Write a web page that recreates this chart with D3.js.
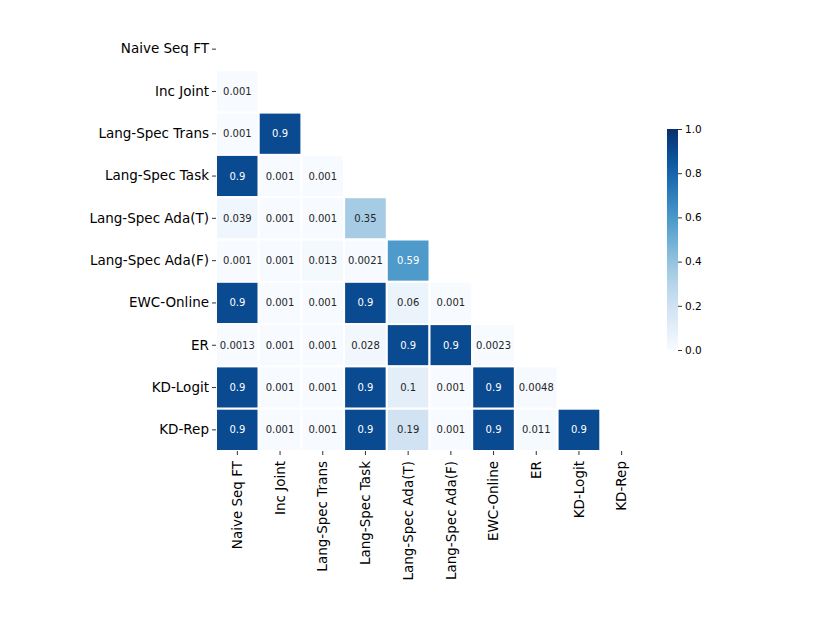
<!DOCTYPE html>
<html>
<head>
<meta charset="utf-8">
<script src="https://cdn.jsdelivr.net/npm/d3@7"></script>
<style>
  body { margin: 0; background: #fff; }
  svg text { font-family: "DejaVu Sans", sans-serif; }
</style>
</head>
<body>
<div id="chart"></div>
<script>
// method names, same order on both axes
const methods = ['Naive Seq FT', 'Inc Joint', 'Lang-Spec Trans', 'Lang-Spec Task',
  'Lang-Spec Ada(T)', 'Lang-Spec Ada(F)', 'EWC-Online', 'ER', 'KD-Logit', 'KD-Rep'];

// lower triangle, row i holds columns 0..i-1 (diagonal and above are masked)
const pvalues = [
  [],
  [0.001],
  [0.001, 0.9],
  [0.9, 0.001, 0.001],
  [0.039, 0.001, 0.001, 0.35],
  [0.001, 0.001, 0.013, 0.0021, 0.59],
  [0.9, 0.001, 0.001, 0.9, 0.06, 0.001],
  [0.0013, 0.001, 0.001, 0.028, 0.9, 0.9, 0.0023],
  [0.9, 0.001, 0.001, 0.9, 0.1, 0.001, 0.9, 0.0048],
  [0.9, 0.001, 0.001, 0.9, 0.19, 0.001, 0.9, 0.011, 0.9]
];

const cbarTicks = [0, 0.2, 0.4, 0.6, 0.8, 1.0];

const W = 830, H = 642;
const grid = {left: 216, top: 28, w: 427, h: 423};

const svg = d3.select('#chart').append('svg')
  .attr('width', W)
  .attr('height', H);

const x = d3.scaleBand().domain(methods).range([grid.left, grid.left + grid.w]);
const y = d3.scaleBand().domain(methods).range([grid.top, grid.top + grid.h]);
const color = d3.scaleSequential(d3.interpolateBlues).domain([0, 1]);

// flatten into cells
let cells = [];
pvalues.forEach((row, i) => {
  row.forEach((v, j) => cells.push({r: methods[i], c: methods[j], v: v}));
});

const g = svg.append('g');
g.selectAll('rect.cell')
  .data(cells)
  .enter().append('rect')
    .attr('class', 'cell')
    .attr('x', d => x(d.c))
    .attr('y', d => y(d.r))
    .attr('width', x.bandwidth())
    .attr('height', y.bandwidth())
    .attr('fill', d => color(d.v))
    .attr('stroke', '#fff')
    .attr('stroke-width', 2);

// annotations: white on dark cells, like seaborn does
function lum(c) {
  let rgb = d3.rgb(c);
  let f = v => { v /= 255; return v <= 0.03928 ? v / 12.92 : Math.pow((v + 0.055) / 1.055, 2.4); };
  return 0.2126 * f(rgb.r) + 0.7152 * f(rgb.g) + 0.0722 * f(rgb.b);
}
g.selectAll('text.annot')
  .data(cells)
  .enter().append('text')
    .attr('class', 'annot')
    .attr('x', d => x(d.c) + x.bandwidth() / 2)
    .attr('y', d => y(d.r) + y.bandwidth() / 2)
    .attr('dy', '0.35em')
    .attr('text-anchor', 'middle')
    .style('font-size', '10px')
    .attr('fill', d => lum(color(d.v)) > 0.408 ? '#262626' : '#fff')
    .text(d => d3.format('.2~g')(d.v));

// left axis
const yAxis = svg.append('g')
  .attr('transform', `translate(${grid.left},0)`)
  .call(d3.axisLeft(y).tickSize(4).tickPadding(3));
yAxis.select('.domain').remove();
yAxis.selectAll('text').style('font-size', '13.5px').attr('fill', '#000');
yAxis.selectAll('line').attr('stroke', '#333');

// bottom axis, rotated labels
const xAxis = svg.append('g')
  .attr('transform', `translate(0,${grid.top + grid.h})`)
  .call(d3.axisBottom(x).tickSize(4).tickPadding(3));
xAxis.select('.domain').remove();
xAxis.selectAll('line').attr('stroke', '#333');
xAxis.selectAll('text')
  .style('font-size', '13.5px')
  .attr('fill', '#000')
  .attr('text-anchor', 'end')
  .attr('transform', 'rotate(-90)')
  .attr('x', -10)
  .attr('y', 0)
  .attr('dy', '0.35em');

// colorbar
const cb = {x: 667, y: 129, w: 11, h: 221};
const defs = svg.append('defs');
const grad = defs.append('linearGradient')
  .attr('id', 'cbar')
  .attr('x1', 0).attr('y1', 1).attr('x2', 0).attr('y2', 0);
d3.range(0, 1.0001, 0.05).forEach(t => {
  grad.append('stop').attr('offset', t).attr('stop-color', color(t));
});
svg.append('rect')
  .attr('x', cb.x).attr('y', cb.y)
  .attr('width', cb.w).attr('height', cb.h)
  .attr('fill', 'url(#cbar)');

const cy = d3.scaleLinear().domain([0, 1]).range([cb.y + cb.h, cb.y]);
const cAxis = svg.append('g')
  .attr('transform', `translate(${cb.x + cb.w},0)`)
  .call(d3.axisRight(cy).tickValues(cbarTicks).tickFormat(d3.format('.1f')).tickSize(4).tickPadding(3));
cAxis.select('.domain').remove();
cAxis.selectAll('line').attr('stroke', '#333');
cAxis.selectAll('text').style('font-size', '10.5px').attr('fill', '#000');
</script>
</body>
</html>
